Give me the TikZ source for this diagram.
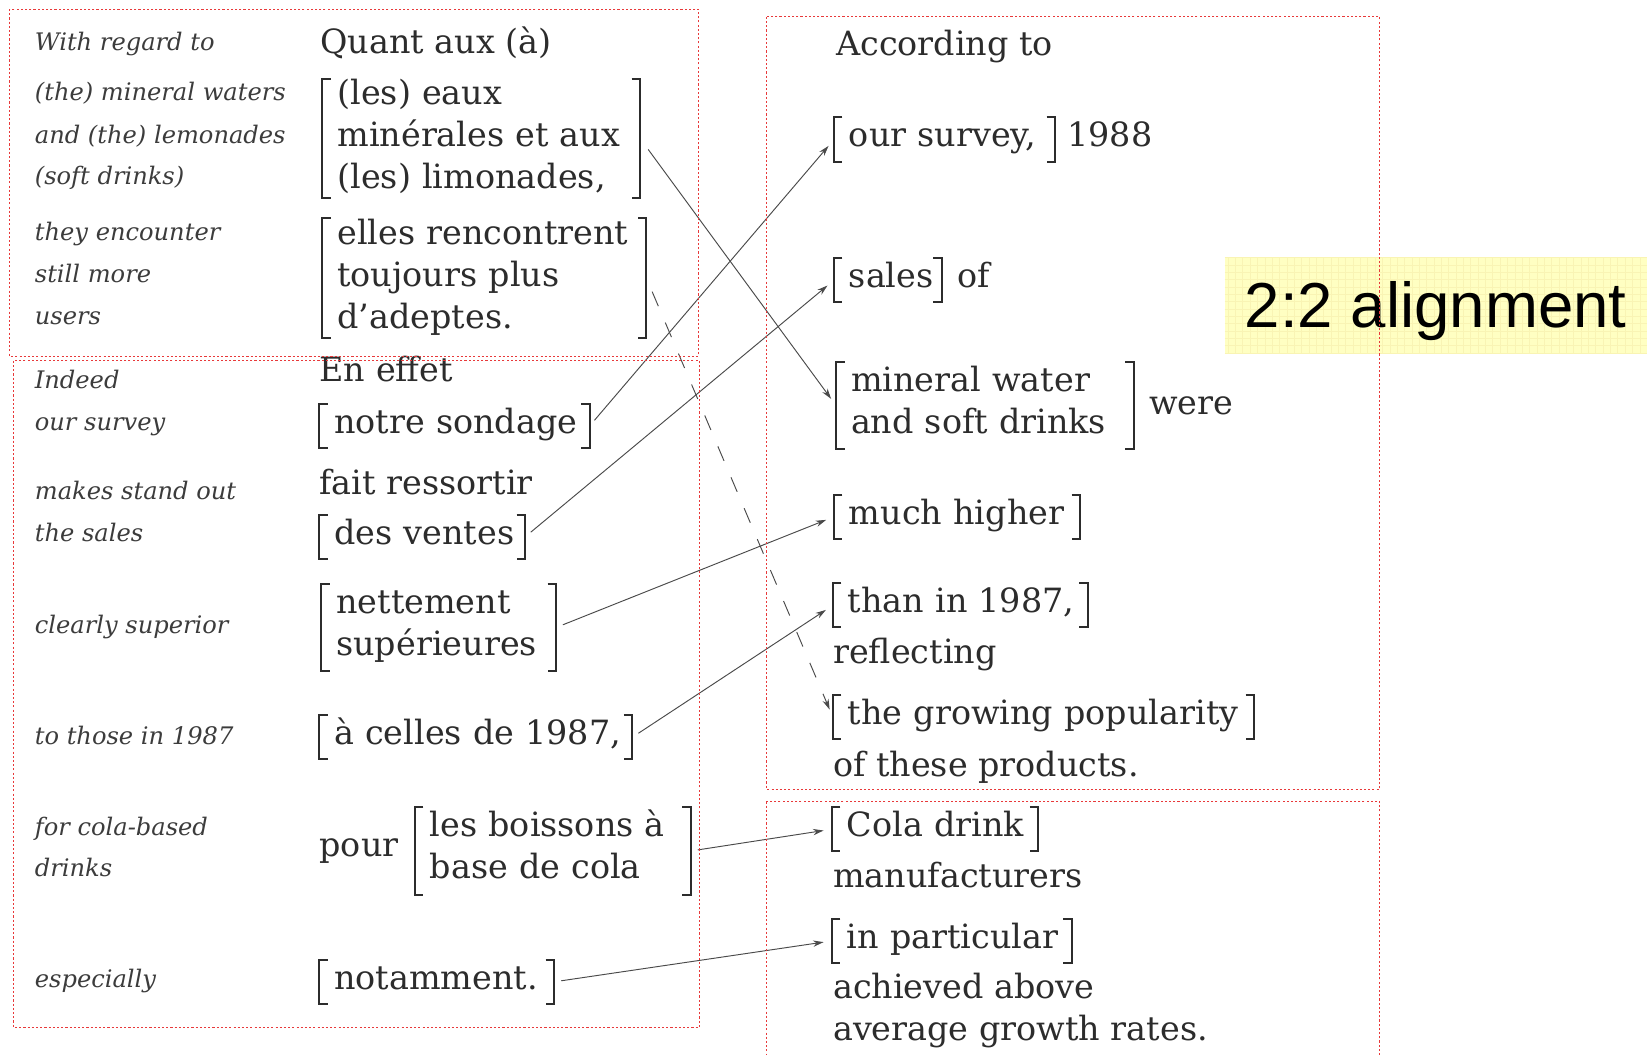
\documentclass[tikz,border=0pt]{standalone}
\usepackage{fontspec}
\setmainfont{DejaVu Serif}
\newfontfamily\labfont{Liberation Sans}
\usetikzlibrary{arrows.meta}
\definecolor{boxred}{HTML}{E8393A}
\definecolor{ink}{HTML}{2C2C2C}
\definecolor{inkit}{HTML}{3C3C3C}
\definecolor{lineg}{HTML}{4A4A4A}
\definecolor{yel}{HTML}{FFFFC2}
\definecolor{yelgrid}{HTML}{F9F4B4}
\newcommand\frf{\fontsize{31.8}{40}\selectfont}
\newcommand\enf{\fontsize{23}{28}\selectfont\itshape}
\newcommand\topst[1]{\rule{0pt}{#1pt}}
\newcommand\botst[1]{\rule[-#1pt]{0pt}{#1pt}}
\newcommand\mybr[1]{%
  \draw[brl] ([xshift=8pt]#1.north west) -- (#1.north west) -- (#1.south west) -- ([xshift=8pt]#1.south west);
  \draw[brl] ([xshift=-8pt]#1.north east) -- (#1.north east) -- (#1.south east) -- ([xshift=-8pt]#1.south east);}
\begin{document}
\begin{tikzpicture}[x=1pt,y=-1pt,
  en/.style={anchor=base west, inner sep=0pt, font=\enf, text=inkit},
  fr/.style={anchor=base west, inner sep=0pt, font=\frf, text=ink},
  bk/.style={anchor=north west, inner xsep=14pt, inner ysep=0pt, font=\frf, text=ink, align=left, text width=#1},
  brl/.style={draw=ink, line width=1.9pt},
  arr/.style={draw=lineg, line width=0.9pt, -{Stealth[length=10pt,width=6pt]}, shorten <=7pt, shorten >=8pt},
  darr/.style={arr, dash pattern=on 15pt off 17pt, shorten <=14pt},
  rbox/.style={draw=boxred, line width=1pt, dash pattern=on 2pt off 2pt}]
\fill[white] (0,0) rectangle (1568,1004);
\useasboundingbox (0,0) rectangle (1568,1004);

% yellow label box
\fill[yel] (1166,245) rectangle (1572,336);
\draw[yelgrid, line width=0.3pt, step=7pt] (1166,245) grid (1572,336);
\node[anchor=base west, inner sep=0pt, font=\labfont\fontsize{60.5}{70}\selectfont, text=black] (lab) at (1185,312) {2:2 alignment};

% English glosses
\node[en] (l1) at (33,48) {With regard to};
\node[en] (l2) at (33,96) {(the) mineral waters};
\node[en] (l3) at (33,136.5) {and (the) lemonades};
\node[en] (l4) at (33,176) {(soft drinks)};
\node[en] (l5) at (33,229) {they encounter};
\node[en] (l6) at (33,269) {still more};
\node[en] (l7) at (33,308.5) {users};
\node[en] (l8) at (33,369.5) {Indeed};
\node[en] (l9) at (33,409.5) {our survey};
\node[en] (l10) at (33,476) {makes stand out};
\node[en] (l11) at (33,515.7) {the sales};
\node[en] (l12) at (33,603) {clearly superior};
\node[en] (l13) at (33,709) {to those in 1987};
\node[en] (l14) at (33,795) {for cola-based};
\node[en] (l15) at (33,834.6) {drinks};
\node[en] (l16) at (33,940) {especially};

% French column
\node[fr] (qa) at (305,50.7) {Quant aux (à)};
\node[bk=274pt] (g1) at (307,75) {\mbox{\topst{23}(les) eaux}\\\mbox{minérales et aux}\\\mbox{(les) limonades,\botst{9}}};
\node[bk=280pt] (g2) at (307,208) {\mbox{\topst{23}elles rencontrent}\\\mbox{toujours plus}\\\mbox{d’adeptes.\botst{9}}};
\node[fr] (ee) at (304,363.4) {En effet};
\node[bk=229pt] (ns) at (304,384.5) {\mbox{\topst{28}notre sondage\botst{13.5}}};
\node[fr] (fr2) at (304,470.3) {fait ressortir};
\node[bk=167.5pt] (dv) at (304,490.2) {\mbox{\topst{28}des ventes\botst{13.5}}};
\node[bk=195pt] (nt) at (306,555.7) {\mbox{\topst{28}nettement}\\\mbox{supérieures\botst{15}}};
\node[bk=269.5pt] (ac) at (304,681) {\mbox{\topst{28}à celles de 1987,\botst{13.5}}};
\node[fr] (po) at (304,815.6) {pour};
\node[bk=234pt] (lb) at (395,768.5) {\mbox{\topst{28}les boissons à}\\\mbox{base de cola\botst{15}}};
\node[bk=195pt] (nm) at (304,913.8) {\mbox{\topst{28}notamment.\botst{13.5}}};

% English translation column
\node[fr] (acc) at (796,52.4) {According to};
\node[bk=182pt] (sv) at (794,111.6) {\mbox{\topst{28}our survey,\botst{14}}};
\node[fr] (y88) at (1016,139.6) {1988};
\node[bk=74pt] (sl) at (794,245.5) {\mbox{\topst{28}sales\botst{14}}};
\node[fr] (of) at (911,273.5) {of};
\node[bk=255pt] (mw) at (796,344.5) {\mbox{\topst{28}mineral water}\\\mbox{and soft drinks\botst{15}}};
\node[fr] (we) at (1094,395) {were};
\node[bk=205.7pt] (mh) at (794,471) {\mbox{\topst{28}much higher\botst{13.5}}};
\node[bk=214pt] (th) at (793,555.3) {\mbox{\topst{28}than in 1987,\botst{13.5}}};
\node[fr] (rf) at (793,631.5) {reflecting};
\node[bk=372.5pt] (gp) at (793,662) {\mbox{\topst{28}the growing popularity\botst{13.5}}};
\node[fr] (op) at (793,739.4) {of these products.};
\node[bk=168pt] (cd) at (792,768.5) {\mbox{\topst{28}Cola drink\botst{13.5}}};
\node[fr] (mf) at (793,844.7) {manufacturers};
\node[bk=200pt] (ip) at (792,874.8) {\mbox{\topst{28}in particular\botst{13.5}}};
\node[fr] (aa) at (793,950.4) {achieved above};
\node[fr] (ag) at (793,990.8) {average growth rates.};

% brackets
\foreach \n in {g1,g2,ns,dv,nt,ac,lb,nm,sv,sl,mw,mh,th,gp,cd,ip} {\mybr{\n}}

% connectors
\draw[arr, shorten <=13pt] (g1.east) -- (mw.west);
\draw[arr] (ns.east) -- (sv.west);
\draw[arr] (dv.east) -- (sl.west);
\draw[arr] (nt.east) -- (mh.west);
\draw[arr] (ac.east) -- (th.west);
\draw[arr] (lb.east) -- (cd.west);
\draw[arr] (nm.east) -- (ip.west);
\draw[darr] (g2.east) -- (gp.west);

% red dotted frames
\draw[rbox] (9,8.6) rectangle (665,339);
\draw[rbox] (12.8,343.5) rectangle (666,978);
\draw[rbox] (730,16) rectangle (1313.5,751.5);
\draw[rbox] (730,763) rectangle (1313.5,1012);
\end{tikzpicture}
\end{document}
